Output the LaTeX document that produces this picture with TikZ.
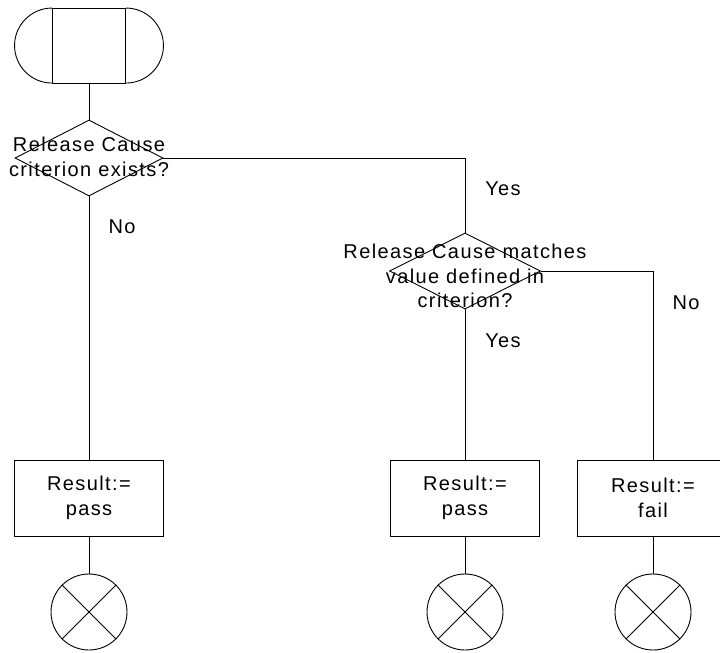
\documentclass[tikz,border=0pt]{standalone}
\usepackage{fontspec}
\setmainfont{Liberation Sans}[LetterSpace=7]
\usetikzlibrary{shapes.geometric, positioning}

\tikzset{
  decision/.style={draw, diamond, minimum width=148pt, minimum height=76pt, inner sep=0pt},
  action/.style={draw, rectangle, minimum width=149pt, minimum height=76pt, align=center},
  stop/.style={draw, circle, minimum size=76pt, inner sep=0pt},
  txt/.style={align=center}
}

\begin{document}
\begin{tikzpicture}[x=1pt, y=-1pt, line width=0.9pt, every node/.style={font=\fontsize{20}{24.5}\selectfont}]
        \useasboundingbox (0,0) rectangle (720,653);

        % Start symbol
        \node[draw, minimum width=73pt, minimum height=75pt] (start) at (89,46) {};
        \draw (start.north west) arc[start angle=90, end angle=270, radius=37.5pt];
        \draw (start.north east) arc[start angle=90, end angle=-90, radius=37.5pt];

        % Decisions
        \node[decision] (ask1) at (89,158) {};
        \node[txt] (ask1txt) at (89,157) {Release Cause\\criterion exists?};
        \node[decision, minimum width=151pt] (ask2) at (465,271) {};
        \node[txt] (ask2txt) at (465,276) {Release Cause matches\\value defined in\\criterion?};

        % Results
        \node[action] (pass1) at (89,498) {Result:=\\pass};
        \node[action] (pass2) at (465,498) {Result:=\\pass};
        \node[action, minimum width=152pt] (fail) at (653,498) {Result:=\\fail};

        % Ends
        \node[stop] (end1) at (89,612) {};
        \node[stop] (end2) at (465,612) {};
        \node[stop] (end3) at (653,612) {};
        \foreach \n in {end1,end2,end3}
          \draw (\n.north west) -- (\n.south east) (\n.north east) -- (\n.south west);

        % Flow lines
        \draw (start.south) -- (ask1.north);
        \draw (ask1.east) -| (ask2.north);
        \draw (ask1.south) -- (pass1.north);
        \draw (ask2.south) -- (pass2.north);
        \draw (ask2.east) -| (fail.north);
        \draw (pass1.south) -- (end1.north);
        \draw (pass2.south) -- (end2.north);
        \draw (fail.south) -- (end3.north);

        % Branch labels
        \node (yes1) at (503,189) {Yes};
        \node (no1) at (122,227) {No};
        \node (yes2) at (503,341) {Yes};
        \node (no2) at (686,303) {No};
      \end{tikzpicture}
\end{document}
